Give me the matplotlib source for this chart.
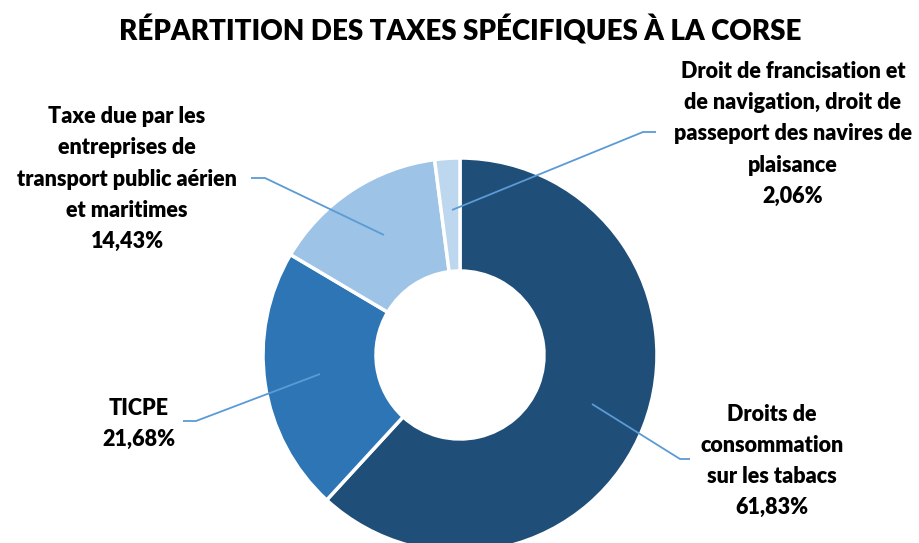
import matplotlib.pyplot as plt

# -------- Data --------
labels = [
    "Droits de\nconsommation\nsur les tabacs",
    "TICPE",
    "Taxe due par les\nentreprises de\ntransport public aérien\net maritimes",
    "Droit de francisation et\nde navigation, droit de\npasseport des navires de\nplaisance",
]
shares = [61.83, 21.68, 14.43, 2.06]
colors = ["#1F4E79", "#2E75B6", "#9DC3E6", "#BDD7EE"]

# label text centre / leader line (pixel coords, y from top)
text_pos = [(772, 461), (139, 424), (127, 179), (793, 134)]
elbow_pos = [(680, 459), (196, 421), (265, 178), (643, 132)]
end_pos = [(690, 459), (183, 421), (251, 178), (656, 132)]
tip_pos = [(592, 404), (320, 374), (384, 235), (452, 210)]

W, H = 919, 543
plt.rcParams["font.family"] = ["Lato", "DejaVu Sans"]

fig = plt.figure(figsize=(W / 100, H / 100), dpi=100)
ax = fig.add_axes([0, 0, 1, 1])

ax.pie(shares, colors=colors, startangle=90, counterclock=False,
       center=(460, H - 355), radius=197, frame=True,
       wedgeprops=dict(width=113, edgecolor="white", linewidth=2.5))
ax.set_xlim(0, W)
ax.set_ylim(0, H)
ax.set_aspect("equal")
ax.axis("off")

line_col = "#5B9BD5"
for lab, v, tp, el, en, tip in zip(labels, shares, text_pos, elbow_pos, end_pos, tip_pos):
    ax.plot([tip[0], el[0], en[0]], [H - tip[1], H - el[1], H - en[1]],
            color=line_col, lw=1.3, solid_capstyle="butt")
    txt = lab + "\n" + f"{v:.2f}".replace(".", ",") + "%"
    ax.text(tp[0], H - tp[1], txt, ha="center", va="center",
            fontsize=15.5, fontweight="heavy", linespacing=1.6, color="#000000")

fig.text(460 / W, 1 - 30 / H, "RÉPARTITION DES TAXES SPÉCIFIQUES À LA CORSE",
         ha="center", va="center", fontsize=20, fontweight="heavy")

fig.savefig("out.png", dpi=100)
